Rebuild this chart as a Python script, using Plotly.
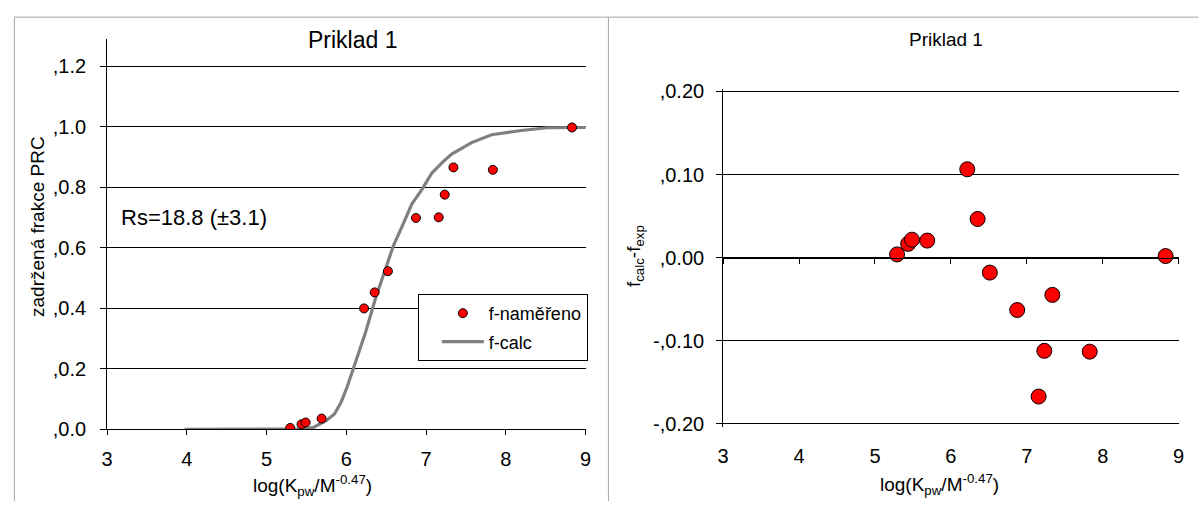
import plotly.graph_objects as go

# ---------------- data ----------------
x_meas = [5.295, 5.437, 5.489, 5.689, 6.221, 6.354, 6.520, 6.872, 7.157, 7.233, 7.342, 7.836, 8.829]
f_meas = [0.005, 0.017, 0.023, 0.036, 0.400, 0.453, 0.523, 0.699, 0.701, 0.776, 0.866, 0.858, 0.998]

curve_x = [3.97, 4.5, 5.0, 5.3, 5.45, 5.58, 5.69, 5.75, 5.85, 5.93, 6.01, 6.1, 6.24, 6.37,
           6.49, 6.59, 6.7, 6.82, 6.95, 7.07, 7.2, 7.32, 7.57, 7.82, 8.19, 8.52, 9.05]
curve_y = [0.0, 0.0, 0.0, 0.0, 0.002, 0.006, 0.02, 0.03, 0.051, 0.088, 0.141, 0.21, 0.321, 0.438,
           0.534, 0.608, 0.672, 0.745, 0.794, 0.847, 0.882, 0.91, 0.948, 0.974, 0.988, 0.997, 0.998]

x_res = [5.291, 5.437, 5.487, 5.688, 6.216, 6.352, 6.513, 6.874, 7.156, 7.231, 7.337, 7.829, 8.829]
res = [0.004, 0.0167, 0.0217, 0.0206, 0.1064, 0.0466, -0.0179, -0.0629, -0.167, -0.112, -0.0447, -0.113, 0.002]

x_ticks = [3, 4, 5, 6, 7, 8, 9]
y1_ticks = [0.0, 0.2, 0.4, 0.6, 0.8, 1.0, 1.2]
y1_labels = [",0.0", ",0.2", ",0.4", ",0.6", ",0.8", ",1.0", ",1.2"]
y2_ticks = [-0.2, -0.1, 0.0, 0.1, 0.2]
y2_labels = ["-,0.20", "-,0.10", ",0.00", ",0.10", ",0.20"]

FONT = "Arial, Liberation Sans, sans-serif"
W, H = 1204, 512

def px(v):
    return v / W

def py(v):
    return 1 - v / H

fig = go.Figure()

fig.add_trace(go.Scatter(
    x=curve_x, y=curve_y, mode="lines", name="f-calc",
    line=dict(color="#808080", width=3.2), xaxis="x", yaxis="y",
    legendrank=2, legendgroup="b",
))
fig.add_trace(go.Scatter(
    x=x_meas, y=f_meas, mode="markers", name="f-naměřeno",
    marker=dict(color="#FF0000", size=9, line=dict(color="black", width=1)),
    xaxis="x", yaxis="y", legendrank=1, legendgroup="a",
))
fig.add_trace(go.Scatter(
    x=x_res, y=res, mode="markers", showlegend=False,
    marker=dict(color="#FF0000", size=15, line=dict(color="black", width=1)),
    xaxis="x2", yaxis="y2",
))

L_dom = [px(102.2), px(585.5)]
L_ydom = [py(437.7), py(32.3)]
R_dom = [px(724.4), px(1184.4)]
R_top, R_bot = 86.7, 432.0
pad = 0.4 / (R_bot - R_top) * 3.0          # keeps the +-0.20 gridlines inside the range
R_ydom = [py(R_bot + 3.0), py(R_top - 3.0)]
zero_frac = (R_ydom[0] + R_ydom[1]) / 2
tickfont = dict(family=FONT, size=20, color="black")

fig.update_layout(
    width=W, height=H,
    margin=dict(l=0, r=0, t=0, b=0),
    paper_bgcolor="white", plot_bgcolor="white",
    font=dict(family=FONT, color="black"),
    showlegend=True,
    legend=dict(
        x=px(416), y=py(297), xanchor="left", yanchor="top",
        bordercolor="black", borderwidth=1, bgcolor="white",
        font=dict(family=FONT, size=18, color="black"),
        traceorder="grouped", tracegroupgap=2, indentation=18,
        itemwidth=42,
    ),
    xaxis=dict(
        domain=L_dom, range=[3, 9], anchor="y",
        tickvals=x_ticks, ticks="outside", ticklen=5, tickcolor="black",
        showline=True, linecolor="black", linewidth=1, showgrid=False, zeroline=False,
        tickfont=tickfont, ticklabelstandoff=7,
    ),
    yaxis=dict(
        domain=L_ydom, range=[0, 1.29], anchor="x",
        tickvals=y1_ticks, ticktext=y1_labels, ticks="outside", ticklen=6, tickcolor="black",
        showline=True, linecolor="black", linewidth=1,
        showgrid=True, gridcolor="black", gridwidth=1, zeroline=False,
        tickfont=tickfont, ticklabelstandoff=10,
    ),
    # right chart: x axis crosses at zero (tick marks there), labels pushed to the bottom
    xaxis2=dict(
        domain=R_dom, range=[3, 9], anchor="free", position=zero_frac,
        tickvals=x_ticks, ticks="outside", ticklen=5, tickcolor="black", tickwidth=1,
        showline=True, linecolor="black", linewidth=1, showgrid=False, zeroline=False,
        tickfont=tickfont, ticklabelstandoff=175,
    ),
    yaxis2=dict(
        domain=R_ydom, range=[-0.2 - pad, 0.2 + pad], anchor="x2",
        tickvals=y2_ticks, ticktext=y2_labels, ticks="outside", ticklen=6, tickcolor="black", tickwidth=1,
        showline=True, linecolor="black", linewidth=1,
        showgrid=True, gridcolor="black", gridwidth=1, zeroline=False,
        tickfont=tickfont, ticklabelstandoff=8,
    ),
)

ann = [
    dict(text="Priklad 1", x=px(350), y=py(33.5), font=dict(size=23)),
    dict(text="Priklad 1", x=px(949), y=py(32.5), font=dict(size=19)),
    dict(text="zadržená frakce PRC", x=px(32), y=py(226.7), textangle=-90, font=dict(size=19)),
    dict(text="f<sub>calc</sub>-f<sub>exp</sub>", x=px(636), y=py(258), textangle=-90, font=dict(size=19)),
    dict(text="log(K<sub>pw</sub>/M<sup>-0.47</sup>)", x=px(310), y=py(496), font=dict(size=19)),
    dict(text="log(K<sub>pw</sub>/M<sup>-0.47</sup>)", x=px(943), y=py(495), font=dict(size=19)),
    dict(text="Rs=18.8 (±3.1)", x=px(114), y=py(218), xanchor="left", font=dict(size=22)),
]
for a in ann:
    a.setdefault("xanchor", "center")
    a.update(xref="paper", yref="paper", yanchor="middle", showarrow=False)
    a["font"].update(family=FONT, color="black")
fig.update_layout(annotations=ann)

frame = dict(color="#A6A6A6", width=1)
fig.update_layout(shapes=[
    dict(type="line", xref="paper", yref="paper", x0=px(8.5), x1=1.0, y0=py(9.5), y1=py(9.5), line=frame),
    dict(type="line", xref="paper", yref="paper", x0=px(8.5), x1=px(8.5), y0=py(9.5), y1=0, line=frame),
    dict(type="line", xref="paper", yref="paper", x0=px(608.5), x1=px(608.5), y0=py(9.5), y1=0, line=frame),
])

fig.write_html("out.html")
